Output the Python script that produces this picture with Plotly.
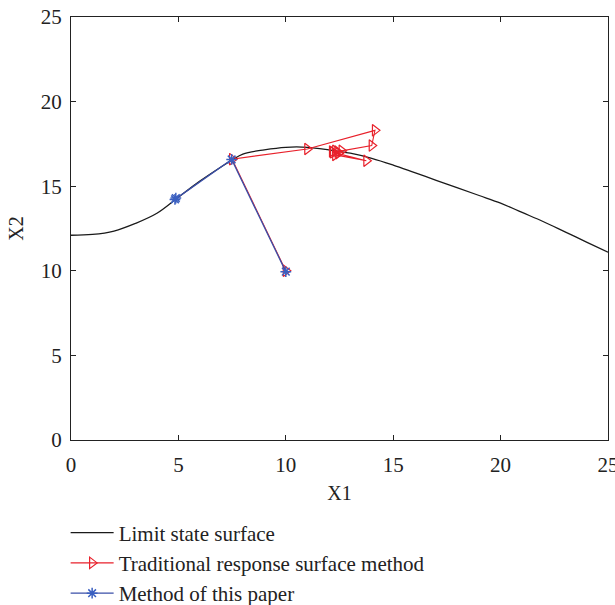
import plotly.graph_objects as go

# Limit state surface
lss_x1 = [0, 1, 2, 3, 4, 5, 6, 7, 7.5, 8, 9, 10, 11, 12, 13, 14, 15, 16, 17, 18, 19, 20, 21, 22, 23, 24, 25]
lss_x2 = [12.1, 12.15, 12.35, 12.8, 13.4, 14.35, 15.3, 16.15, 16.55, 16.9, 17.15, 17.3, 17.3, 17.15, 16.95, 16.65,
          16.25, 15.8, 15.35, 14.9, 14.45, 14.0, 13.45, 12.9, 12.3, 11.7, 11.1]

# Traditional response surface method iterations
trs_x1 = [10.0, 7.5, 11.0, 14.15, 14.0, 12.2, 13.75, 12.3, 12.6, 12.15, 12.45, 12.3, 12.4]
trs_x2 = [10.0, 16.6, 17.2, 18.3, 17.4, 17.0, 16.5, 16.85, 17.1, 17.05, 16.95, 17.1, 17.05]

# Method of this paper iterations
mtp_x1 = [10.0, 7.48, 4.84, 4.88]
mtp_x2 = [9.95, 16.58, 14.22, 14.3]

font_family = "Liberation Serif"

fig = go.Figure()
fig.add_trace(go.Scatter(x=lss_x1, y=lss_x2, mode="lines", name="Limit state surface",
                         line=dict(color="#1a1a1a", width=1.3, shape="spline")))
fig.add_trace(go.Scatter(x=trs_x1, y=trs_x2, mode="lines+markers", name="Traditional response surface method",
                         line=dict(color="#e8212b", width=1.1),
                         marker=dict(symbol="triangle-right-open", size=10, color="#e8212b",
                                     line=dict(width=1.2, color="#e8212b"))))
fig.add_trace(go.Scatter(x=mtp_x1, y=mtp_x2, mode="lines+markers", name="Method of this paper",
                         line=dict(color="#3a4fa8", width=1.3),
                         marker=dict(symbol="asterisk-open", size=9, color="#3a5fc0",
                                     line=dict(width=1.5, color="#3a5fc0"))))

axis_common = dict(showline=True, linecolor="#222", linewidth=1, mirror="ticks", ticks="inside",
                   ticklen=5, tickcolor="#222", showgrid=False, zeroline=False, automargin=False,
                   ticklabeloverflow="allow",
                   tickfont=dict(family=font_family, size=21, color="#222"),
                   title_font=dict(family=font_family, size=20, color="#222"))

fig.update_xaxes(range=[0, 25], tickvals=[0, 5, 10, 15, 20, 25], title_text="X1", title_standoff=9,
                 ticklabelstandoff=6, **axis_common)
fig.update_yaxes(range=[0, 25], tickvals=[0, 5, 10, 15, 20, 25], title_text="X2", title_standoff=11,
                 ticklabelstandoff=4, **axis_common)

fig.update_layout(
    width=615, height=605,
    margin=dict(l=71, r=7, t=17, b=165, autoexpand=False),
    paper_bgcolor="white", plot_bgcolor="white",
    font=dict(family=font_family, size=20, color="#222"),
    legend=dict(x=-0.01, y=-0.41, xanchor="left", yanchor="bottom", orientation="v",
                font=dict(family=font_family, size=21, color="#222"),
                bgcolor="rgba(0,0,0,0)", itemwidth=43, tracegroupgap=0),
    showlegend=True,
)

fig.write_html("out.html", config={"displayModeBar": False},
               post_script="document.body.style.margin='0px';")
